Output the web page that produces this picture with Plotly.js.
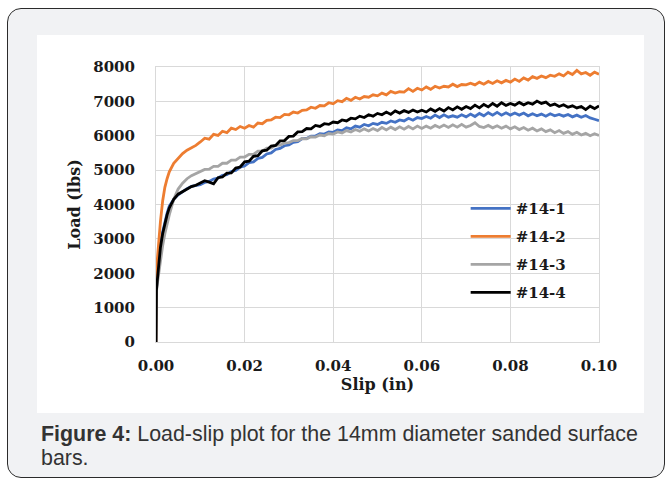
<!DOCTYPE html>
<html>
<head>
<meta charset="utf-8">
<script src="https://cdn.plot.ly/plotly-3.0.1.min.js"></script>
<style>
  html, body { margin: 0; padding: 0; background: #ffffff; }
  #wrap { position: relative; width: 667px; height: 479px; overflow: hidden; }
  #frame { position: absolute; left: 7px; top: 8px; width: 656px; height: 468px;
           border: 1px solid #2b2b2b; border-radius: 14px; background: #f1f2f4; }
  #panel { position: absolute; left: 37px; top: 35px; width: 607px; height: 378px; background: #ffffff; }
  #chart { position: absolute; left: 0; top: 0; width: 667px; height: 479px; }
  #caption { position: absolute; left: 41px; top: 422px; width: 624px;
             font-family: "Liberation Sans", Arial, sans-serif; font-size: 21.4px;
             line-height: 24px; color: #333333; white-space: nowrap; }
</style>
</head>
<body>
<div id="wrap">
  <div id="frame"></div>
  <div id="panel"></div>
  <div id="chart"></div>
  <div id="caption"><b>Figure 4:</b> Load-slip plot for the 14mm diameter sanded surface<br>bars.</div>
</div>
<script>
// Slip (in)
const slip = [0, 0.0001, 0.0003, 0.0006, 0.001, 0.0015, 0.002, 0.0025, 0.003, 0.004, 0.005, 0.006, 0.007, 0.008, 0.009,
  0.010, 0.011, 0.012, 0.013, 0.014, 0.015, 0.016, 0.017, 0.018, 0.019,
  0.020, 0.021, 0.022, 0.023, 0.024, 0.025, 0.026, 0.027, 0.028, 0.029,
  0.030, 0.031, 0.032, 0.033, 0.034, 0.035, 0.036, 0.037, 0.038, 0.039,
  0.040, 0.041, 0.042, 0.043, 0.044, 0.045, 0.046, 0.047, 0.048, 0.049,
  0.050, 0.051, 0.052, 0.053, 0.054, 0.055, 0.056, 0.057, 0.058, 0.059,
  0.060, 0.061, 0.062, 0.063, 0.064, 0.065, 0.066, 0.067, 0.068, 0.069,
  0.070, 0.071, 0.072, 0.073, 0.074, 0.075, 0.076, 0.077, 0.078, 0.079,
  0.080, 0.081, 0.082, 0.083, 0.084, 0.085, 0.086, 0.087, 0.088, 0.089,
  0.090, 0.091, 0.092, 0.093, 0.094, 0.095, 0.096, 0.097, 0.098, 0.099, 0.100];

// Load (lbs) per specimen
const load14_1 = [0, 1550, 1850, 2250, 2800, 3200, 3500, 3750, 3950, 4150, 4280, 4380, 4460, 4530, 4560,
  4580, 4640, 4670, 4740, 4770, 4850, 4870, 4960, 4990, 5090,
  5120, 5220, 5240, 5340, 5370, 5470, 5500, 5600, 5630, 5710,
  5730, 5810, 5830, 5920, 5920, 5990, 5990, 6060, 6050, 6110,
  6100, 6170, 6150, 6230, 6200, 6280, 6250, 6330, 6290, 6360,
  6330, 6390, 6360, 6430, 6390, 6460, 6430, 6510, 6450, 6530,
  6500, 6560, 6510, 6600, 6530, 6610, 6540, 6580, 6540, 6610,
  6550, 6630, 6560, 6650, 6580, 6670, 6600, 6680, 6600, 6670,
  6600, 6660, 6600, 6660, 6580, 6640, 6580, 6630, 6570, 6640,
  6580, 6620, 6570, 6620, 6550, 6600, 6540, 6590, 6520, 6480, 6440];

const load14_2 = [0, 1900, 2400, 2900, 3500, 4100, 4500, 4750, 4950, 5200, 5350, 5480, 5580, 5650, 5720,
  5820, 5930, 5900, 6040, 6010, 6130, 6090, 6220, 6180, 6270,
  6220, 6300, 6250, 6370, 6350, 6450, 6460, 6540, 6530, 6620,
  6610, 6690, 6660, 6740, 6750, 6830, 6800, 6880, 6870, 6960,
  6930, 7020, 6990, 7090, 7030, 7120, 7070, 7140, 7120, 7190,
  7160, 7240, 7190, 7290, 7240, 7280, 7270, 7370, 7290, 7380,
  7330, 7420, 7350, 7440, 7390, 7440, 7420, 7500, 7430, 7490,
  7480, 7530, 7480, 7560, 7500, 7580, 7520, 7600, 7540, 7610,
  7560, 7650, 7580, 7680, 7620, 7720, 7670, 7740, 7690, 7760,
  7730, 7800, 7740, 7850, 7780, 7900, 7800, 7840, 7760, 7850, 7790];

const load14_3 = [0, 1450, 1700, 2000, 2400, 2800, 3150, 3450, 3700, 4150, 4450, 4620, 4750, 4840, 4900,
  4950, 5020, 5030, 5110, 5110, 5200, 5200, 5290, 5290, 5380,
  5380, 5460, 5460, 5550, 5550, 5640, 5640, 5720, 5730, 5790,
  5800, 5860, 5860, 5920, 5910, 5970, 5960, 6020, 6000, 6070,
  6050, 6110, 6080, 6150, 6110, 6180, 6130, 6200, 6140, 6210,
  6150, 6240, 6170, 6250, 6180, 6260, 6190, 6270, 6200, 6280,
  6210, 6280, 6220, 6300, 6240, 6310, 6240, 6320, 6250, 6330,
  6250, 6300, 6380, 6270, 6240, 6300, 6230, 6290, 6220, 6280,
  6200, 6260, 6180, 6240, 6160, 6220, 6140, 6200, 6120, 6170,
  6090, 6150, 6070, 6120, 6040, 6100, 6020, 6070, 6000, 6060, 6010];

const load14_4 = [0, 1500, 1800, 2200, 2750, 3150, 3450, 3700, 3900, 4150, 4300, 4380, 4450, 4520, 4560,
  4620, 4690, 4650, 4600, 4780, 4800, 4910, 4920, 5060, 5090,
  5240, 5260, 5400, 5420, 5560, 5580, 5700, 5720, 5850, 5860,
  5980, 5990, 6110, 6120, 6210, 6200, 6300, 6270, 6350, 6330,
  6400, 6380, 6460, 6430, 6510, 6490, 6570, 6530, 6610, 6570,
  6650, 6610, 6690, 6620, 6720, 6660, 6730, 6680, 6750, 6690,
  6740, 6690, 6780, 6710, 6790, 6720, 6820, 6750, 6840, 6770,
  6850, 6790, 6890, 6810, 6910, 6840, 6940, 6860, 6960, 6880,
  6940, 6890, 6970, 6900, 6960, 6920, 7010, 6940, 6980, 6880,
  6920, 6850, 6900, 6830, 6870, 6810, 6850, 6760, 6860, 6790, 6870];

const seriesNames = ["#14-1", "#14-2", "#14-3", "#14-4"];
const seriesColors = ["#4472C4", "#ED7D31", "#A5A5A5", "#000000"];
const seriesLoads = [load14_1, load14_2, load14_3, load14_4];

const xTicks = [0, 0.02, 0.04, 0.06, 0.08, 0.10];
const xTickText = ["0.00", "0.02", "0.04", "0.06", "0.08", "0.10"];
const yTicks = [0, 1000, 2000, 3000, 4000, 5000, 6000, 7000, 8000];

const serif = "DejaVu Serif, serif";
const traces = seriesNames.map((n, i) => ({
  type: "scatter", mode: "lines", name: n, x: slip, y: seriesLoads[i],
  legendgroup: "g" + i,
  line: { color: seriesColors[i], width: 2.8 }
}));

const layout = {
  width: 667, height: 479,
  margin: { l: 156, r: 68, t: 67, b: 137 },
  paper_bgcolor: "rgba(0,0,0,0)",
  plot_bgcolor: "#ffffff",
  showlegend: true,
  legend: {
    x: 0.699, y: 0.545, xanchor: "left", yanchor: "top",
    bgcolor: "rgba(0,0,0,0)", tracegroupgap: 5.5,
    font: { family: serif, size: 15, color: "#1a1a1a", weight: "bold" },
    itemwidth: 40
  },
  xaxis: {
    range: [0, 0.1], tickvals: xTicks, ticktext: xTickText,
    showgrid: true, gridcolor: "#d9d9d9", gridwidth: 1,
    showline: true, linecolor: "#d9d9d9", linewidth: 1, mirror: true,
    zeroline: false, ticks: "", ticklabelstandoff: 10,
    tickfont: { family: serif, size: 15, color: "#1a1a1a", weight: "bold" },
    title: { text: "Slip (in)", standoff: 4, font: { family: serif, size: 16, color: "#1a1a1a", weight: "bold" } }
  },
  yaxis: {
    range: [0, 8000], tickvals: yTicks,
    showgrid: true, gridcolor: "#d9d9d9", gridwidth: 1,
    showline: true, linecolor: "#d9d9d9", linewidth: 1, mirror: true,
    zeroline: false, ticks: "", ticklabelstandoff: 17,
    tickfont: { family: serif, size: 15, color: "#1a1a1a", weight: "bold" },
    title: { text: "Load (lbs)", standoff: 8, font: { family: serif, size: 16, color: "#1a1a1a", weight: "bold" } }
  }
};

Plotly.newPlot("chart", traces, layout, { displayModeBar: false, staticPlot: true });
</script>
</body>
</html>
